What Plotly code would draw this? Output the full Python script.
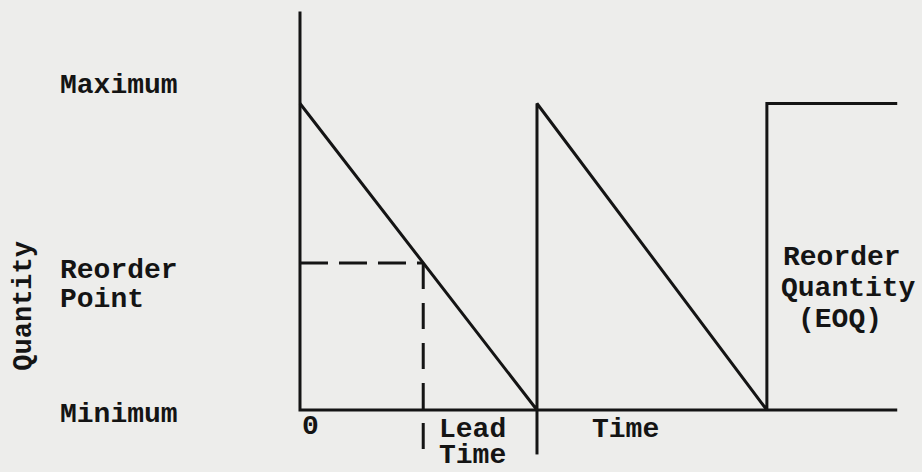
import plotly.graph_objects as go

# Conceptual data: time in cycle units, quantity normalised (0 = minimum, 1 = maximum)
cycle_time = [0.0, 1.0, 1.0, 1.97, 1.97, 2.52]
stock_level = [1.0, 0.0, 1.0, 0.0, 1.0, 1.0]
reorder_point = 0.48
lead_start = 0.52
axis_top = 1.30
axis_end = 2.52
tick_depth = -0.145

y_labels = ["Maximum", "Reorder", "Point", "Minimum"]
y_label_pos = [1.060, 0.454, 0.362, -0.016]

ink = "#141414"
bg = "#ededeb"
font_face = "Liberation Mono, Courier New, monospace"
fsize = 28

fig = go.Figure()

line_style = dict(color=ink, width=3)
# axes (L-shape)
fig.add_trace(go.Scatter(x=[0, 0, axis_end], y=[axis_top, 0, 0], mode="lines",
                         line=line_style, hoverinfo="skip"))
# inventory sawtooth
fig.add_trace(go.Scatter(x=cycle_time, y=stock_level, mode="lines",
                         line=line_style, hoverinfo="skip"))
# tick below axis at end of lead time / first cycle
fig.add_trace(go.Scatter(x=[cycle_time[1], cycle_time[1]], y=[0, tick_depth], mode="lines",
                         line=line_style, hoverinfo="skip"))
# reorder point dashed lines
fig.add_trace(go.Scatter(x=[0, lead_start], y=[reorder_point, reorder_point],
                         mode="lines", line=dict(color=ink, width=3, dash="28px,11px"),
                         hoverinfo="skip"))
fig.add_trace(go.Scatter(x=[lead_start, lead_start], y=[reorder_point, tick_depth],
                         mode="lines", line=dict(color=ink, width=3, dash="26px,14px"),
                         hoverinfo="skip"))


def label(txt, x, y, xanchor="left", angle=0, size=fsize, height=None):
    ann = dict(x=x, y=y, xref="x", yref="y", text=txt, showarrow=False,
               xanchor=xanchor, yanchor="middle", textangle=angle,
               font=dict(family=font_face, size=size, color=ink, weight="bold"))
    if height is not None:
        ann["height"] = height
        ann["valign"] = "middle"
    return ann


annotations = [label(t, -1.02, yp) for t, yp in zip(y_labels, y_label_pos)]
annotations.append(label("Quantity", -1.165, 0.340, xanchor="center", angle=-90, size=27))
annotations.append(label("0", 0.0, -0.055))
annotations.append(label("Lead", 0.578, -0.061, height=24))
annotations.append(label("Time", 0.578, -0.146, height=24))
annotations.append(label("Time", 1.225, -0.065))
annotations.append(label("Reorder", 2.030, 0.496))
annotations.append(label("Quantity", 2.022, 0.398))
annotations.append(label("(EOQ)", 2.278, 0.294, xanchor="center"))

fig.update_layout(
    width=922, height=472,
    margin=dict(l=0, r=0, t=0, b=0),
    paper_bgcolor=bg, plot_bgcolor=bg,
    showlegend=False,
    xaxis=dict(range=[-1.2658, 2.6245], visible=False, fixedrange=True),
    yaxis=dict(range=[-0.2023, 1.3377], visible=False, fixedrange=True),
    annotations=annotations,
)

fig.write_html(
    "out.html",
    config={"displayModeBar": False},
    post_script="document.body.style.margin='0';document.body.style.background='" + bg + "';",
)
